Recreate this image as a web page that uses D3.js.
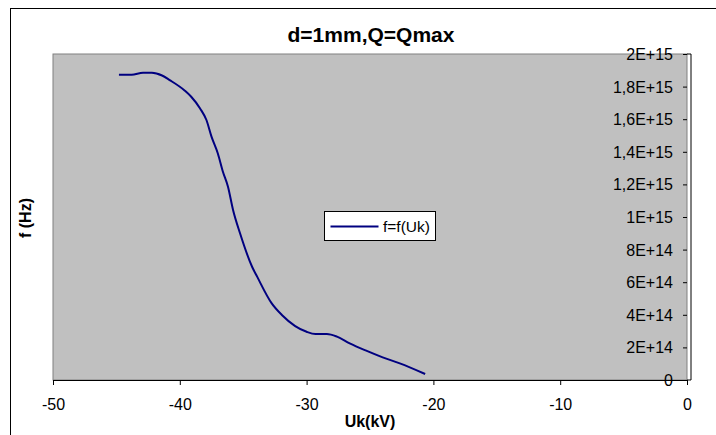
<!DOCTYPE html>
<html>
<head>
<meta charset="utf-8">
<script src="https://cdn.jsdelivr.net/npm/d3@7"></script>
<style>
  body { margin: 0; background: #fff; }
  text { font-family: "Liberation Sans", Arial, sans-serif; }
</style>
</head>
<body>
<script>
// Data: Uk in kV, f in Hz
const uk = [-44.8, -43.8, -42.9, -42.2, -41.4, -40.8, -39.6, -39.1, -38.4, -37.9, -37.5, -37.0,
  -36.6, -36.2, -35.8, -35.25, -34.3, -33.9, -32.75, -31.95, -30.9, -30.0, -29.3, -28.4,
  -27.6, -26.6, -25.3, -24.0, -22.65, -20.65];
const freq = [1.873e15, 1.873e15, 1.885e15, 1.885e15, 1.868e15, 1.84e15, 1.775e15, 1.738e15,
  1.666e15, 1.595e15, 1.493e15, 1.39e15, 1.278e15, 1.186e15, 1.043e15, 0.9e15, 0.695e15,
  0.634e15, 0.47e15, 0.399e15, 0.331e15, 0.296e15, 0.282e15, 0.282e15, 0.266e15, 0.225e15,
  0.18e15, 0.139e15, 0.102e15, 0.037e15];
const xTicks = [-50, -40, -30, -20, -10, 0];
const yTicks = [0, 2e14, 4e14, 6e14, 8e14, 1e15, 1.2e15, 1.4e15, 1.6e15, 1.8e15, 2e15];
const yTickLabels = ["0", "2E+14", "4E+14", "6E+14", "8E+14", "1E+15", "1,2E+15", "1,4E+15",
  "1,6E+15", "1,8E+15", "2E+15"];

const data = uk.map((u, i) => ({ u: u, f: freq[i] }));

const width = 716;
const height = 435;
const plot = { left: 53, right: 687, top: 54, bottom: 380 };

const svg = d3.select("body").append("svg")
  .attr("width", width)
  .attr("height", height);

// chart frame (runs off the right and bottom edges)
svg.append("rect")
  .attr("x", 10.5).attr("y", 8.5)
  .attr("width", 720).attr("height", 440)
  .attr("fill", "#fff")
  .attr("stroke", "#000");

const xScale = d3.scaleLinear().domain([-50, 0]).range([plot.left, plot.right]);
const yScale = d3.scaleLinear().domain([0, 2e15]).range([plot.bottom, plot.top]);

// plot area
svg.append("rect")
  .attr("x", plot.left).attr("y", plot.top)
  .attr("width", plot.right - plot.left)
  .attr("height", plot.bottom - plot.top)
  .attr("fill", "#c0c0c0")
  .attr("stroke", "#808080")
  .attr("stroke-width", 1);

// x axis
const xAxis = svg.append("g")
  .attr("transform", `translate(0,${plot.bottom})`)
  .call(d3.axisBottom(xScale).tickValues(xTicks).tickSize(5).tickPadding(14).tickFormat(d => d));
xAxis.select(".domain").attr("stroke", "#000");
xAxis.selectAll("text").attr("font-size", 16).attr("fill", "#000")
  .style("font-family", "Liberation Sans, Arial, sans-serif");

// y axis on the right, labels inside the plot
const yAxis = svg.append("g")
  .attr("transform", `translate(${plot.right},0)`)
  .call(d3.axisLeft(yScale).tickValues(yTicks).tickSize(4).tickPadding(10)
    .tickFormat((d, i) => yTickLabels[i]));
yAxis.select(".domain").attr("d", `M0,${plot.top}H4V${plot.bottom}H0`).attr("stroke", "#000");
yAxis.selectAll(".tick line").attr("x1", 0).attr("x2", -4).attr("stroke", "#000");
yAxis.selectAll("text").attr("font-size", 16).attr("fill", "#000").attr("dy", "0.34em")
  .style("font-family", "Liberation Sans, Arial, sans-serif");

// curve
const line = d3.line()
  .x(d => xScale(d.u))
  .y(d => yScale(d.f))
  .curve(d3.curveMonotoneX);

svg.append("path")
  .datum(data)
  .attr("d", line)
  .attr("fill", "none")
  .attr("stroke", "#000080")
  .attr("stroke-width", 2);

// titles
svg.append("text")
  .attr("x", 371).attr("y", 42)
  .attr("text-anchor", "middle")
  .attr("font-size", 21).attr("font-weight", "bold")
  .text("d=1mm,Q=Qmax");

svg.append("text")
  .attr("x", 370).attr("y", 427)
  .attr("text-anchor", "middle")
  .attr("font-size", 16).attr("font-weight", "bold")
  .text("Uk(kV)");

svg.append("text")
  .attr("transform", "translate(31,218) rotate(-90)")
  .attr("text-anchor", "middle")
  .attr("font-size", 16).attr("font-weight", "bold")
  .text("f (Hz)");

// legend
const legend = svg.append("g").attr("transform", "translate(324.5,211.5)");
legend.append("rect")
  .attr("width", 111).attr("height", 29)
  .attr("fill", "#fff").attr("stroke", "#000");
legend.append("line")
  .attr("x1", 6).attr("x2", 54).attr("y1", 15).attr("y2", 15)
  .attr("stroke", "#000080").attr("stroke-width", 2);
legend.append("text")
  .attr("x", 58.5).attr("y", 20)
  .attr("font-size", 15.5)
  .text("f=f(Uk)");
</script>
</body>
</html>
